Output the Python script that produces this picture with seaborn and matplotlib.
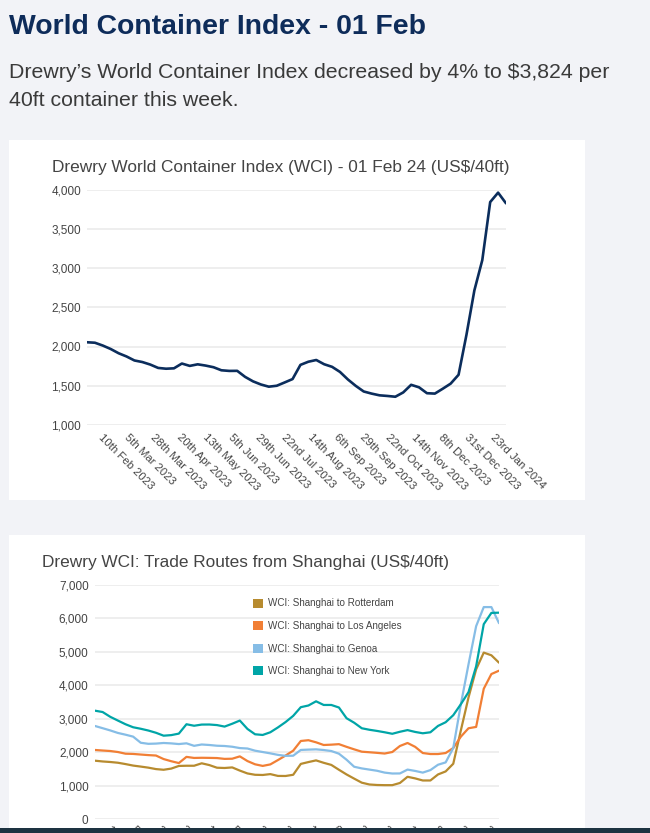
import matplotlib
matplotlib.use("Agg")
import matplotlib.pyplot as plt
from matplotlib.patches import Rectangle, Patch
from matplotlib.ticker import StrMethodFormatter
import pandas as pd
import seaborn as sns

# ---------------------------------------------------------------------------
# Data (weekly WCI assessments, 26 Jan 2023 - 01 Feb 2024, US$/40ft)
# ---------------------------------------------------------------------------
weeks = pd.date_range("2023-01-26", periods=54, freq="7D")

wci_composite = [
    2054, 2048, 2012, 1968, 1914, 1873, 1822, 1802, 1770, 1727,
    1717, 1722, 1783, 1753, 1773, 1757, 1736, 1697, 1689, 1690,
    1613, 1556, 1516, 1488, 1500, 1542, 1585, 1766, 1806, 1828,
    1774, 1741, 1676, 1580, 1498, 1427, 1400, 1378, 1370, 1360,
    1415, 1512, 1480, 1405, 1400, 1462, 1527, 1640, 2150, 2715,
    3100, 3840, 3960, 3824,
]

shanghai_rotterdam = [
    1751, 1728, 1712, 1690, 1650, 1605, 1575, 1543, 1500, 1480,
    1515, 1594, 1600, 1600, 1673, 1620, 1541, 1533, 1550, 1455,
    1370, 1330, 1324, 1350, 1296, 1294, 1330, 1655, 1710, 1760,
    1688, 1625, 1480, 1340, 1215, 1094, 1040, 1025, 1020, 1020,
    1085, 1270, 1222, 1160, 1160, 1340, 1430, 1660, 2660, 3640,
    4480, 4980, 4900, 4679,
]
shanghai_los_angeles = [
    2071, 2055, 2040, 2010, 1960, 1953, 1935, 1918, 1905, 1800,
    1735, 1680, 1865, 1833, 1838, 1835, 1830, 1805, 1810, 1880,
    1740, 1643, 1595, 1640, 1770, 1905, 2050, 2340, 2363, 2300,
    2220, 2230, 2245, 2165, 2090, 2020, 2003, 1985, 1965, 2010,
    2190, 2280, 2165, 1980, 1950, 1950, 1980, 2130, 2470, 2720,
    2760, 3900, 4340, 4440,
]
shanghai_genoa = [
    2788, 2722, 2655, 2580, 2528, 2470, 2287, 2255, 2262, 2280,
    2268, 2248, 2270, 2195, 2235, 2220, 2198, 2190, 2168, 2128,
    2115, 2050, 2010, 1970, 1925, 1895, 1900, 2072, 2082, 2090,
    2070, 2040, 1960, 1780, 1570, 1520, 1485, 1450, 1395, 1368,
    1370, 1485, 1445, 1395, 1470, 1630, 1700, 2130, 3440, 4630,
    5770, 6340, 6340, 5860,
]
shanghai_new_york = [
    3245, 3205, 3062, 2950, 2840, 2750, 2705, 2652, 2585, 2498,
    2515, 2560, 2840, 2795, 2830, 2832, 2815, 2770, 2855, 2950,
    2700, 2540, 2520, 2600, 2745, 2905, 3090, 3350, 3400, 3525,
    3416, 3416, 3340, 3020, 2885, 2720, 2675, 2640, 2600, 2555,
    2615, 2665, 2610, 2570, 2600, 2790, 2900, 3110, 3440, 3800,
    4570, 5830, 6166, 6173,
]

route_names = [
    "WCI: Shanghai to Rotterdam",
    "WCI: Shanghai to Los Angeles",
    "WCI: Shanghai to Genoa",
    "WCI: Shanghai to New York",
]
route_colors = ["#b78b2f", "#f17f35", "#86bde6", "#00a5a7"]

tick_dates = [
    "2023-02-10", "2023-03-05", "2023-03-28", "2023-04-20", "2023-05-13",
    "2023-06-05", "2023-06-29", "2023-07-22", "2023-08-14", "2023-09-06",
    "2023-09-29", "2023-10-22", "2023-11-14", "2023-12-08", "2023-12-31",
    "2024-01-23",
]
tick_labels = [
    "10th Feb 2023", "5th Mar 2023", "28th Mar 2023", "20th Apr 2023",
    "13th May 2023", "5th Jun 2023", "29th Jun 2023", "22nd Jul 2023",
    "14th Aug 2023", "6th Sep 2023", "29th Sep 2023", "22nd Oct 2023",
    "14th Nov 2023", "8th Dec 2023", "31st Dec 2023", "23rd Jan 2024",
]

# ---------------------------------------------------------------------------
# Page layout
# ---------------------------------------------------------------------------
W, H = 650, 833
PAGE_BG = "#f2f3f7"
NAVY = "#0e2c5a"
TEXT = "#444444"
GRID = "#e9e9e9"

sns.set_style("white")
plt.rcParams["font.family"] = ["Liberation Sans", "DejaVu Sans"]

fig = plt.figure(figsize=(W / 100, H / 100), dpi=100)
fig.patch.set_facecolor(PAGE_BG)


def fx(px):
    return px / W


def fy(py):
    return 1 - py / H


def axes_box(left, top, right, bottom):
    return [fx(left), fy(bottom), (right - left) / W, (bottom - top) / H]


# white cards
for top, bottom in [(140, 500), (535, 833)]:
    fig.add_artist(Rectangle((fx(9), fy(bottom)), 576 / W, (bottom - top) / H,
                             transform=fig.transFigure, facecolor="white",
                             edgecolor="none", zorder=-5))

# page heading
fig.text(fx(9), fy(34), "World Container Index - 01 Feb", fontsize=20.4,
         fontweight="bold", color=NAVY, va="baseline", ha="left")
fig.text(fx(9), fy(78), "Drewry\u2019s World Container Index decreased by 4% to $3,824 per",
         fontsize=15.35, color="#3a3a3a", va="baseline", ha="left")
fig.text(fx(9), fy(106), "40ft container this week.",
         fontsize=15.35, color="#3a3a3a", va="baseline", ha="left")


def style_axis(ax, ymin, ymax, step, ypad, xpad):
    ax.set_facecolor("white")
    ax.set_ylim(ymin, ymax)
    ax.set_yticks(range(ymin, ymax + 1, step))
    ax.yaxis.set_major_formatter(StrMethodFormatter("{x:,.0f}"))
    ax.set_xlim(weeks[0], weeks[-1])
    ax.set_xticks(pd.to_datetime(tick_dates))
    ax.set_xticklabels(tick_labels, rotation=-45, ha="left", va="top",
                       rotation_mode="anchor")
    ax.tick_params(axis="both", length=0, colors=TEXT)
    ax.tick_params(axis="x", labelsize=8.2, pad=xpad)
    ax.tick_params(axis="y", labelsize=8.5, pad=ypad)
    ax.grid(axis="y", color=GRID, linewidth=1.1)
    ax.grid(axis="x", visible=False)
    ax.set_axisbelow(True)
    for s in ax.spines.values():
        s.set_visible(False)
    ax.set_xlabel("")
    ax.set_ylabel("")


# ---------------------------------------------------------------------------
# Chart 1: composite WCI
# ---------------------------------------------------------------------------
ax1 = fig.add_axes(axes_box(87, 189.5, 506, 425))
df1 = pd.DataFrame({"week": weeks, "wci": wci_composite})
sns.lineplot(data=df1, x="week", y="wci", ax=ax1, color="#0b2d5c",
             linewidth=1.9)
style_axis(ax1, 1000, 4000, 500, 4.3, 5)
fig.text(fx(52), fy(172), "Drewry World Container Index (WCI) - 01 Feb 24 (US$/40ft)",
         fontsize=12.4, color=TEXT, va="baseline", ha="left")

# ---------------------------------------------------------------------------
# Chart 2: trade routes from Shanghai
# ---------------------------------------------------------------------------
ax2 = fig.add_axes(axes_box(95, 585, 499, 819.3))
df2 = pd.DataFrame({
    "week": list(weeks) * 4,
    "route": [n for n in route_names for _ in weeks],
    "rate": shanghai_rotterdam + shanghai_los_angeles + shanghai_genoa + shanghai_new_york,
})
sns.lineplot(data=df2, x="week", y="rate", hue="route", hue_order=route_names,
             palette=dict(zip(route_names, route_colors)), ax=ax2,
             linewidth=1.6, legend=False)
style_axis(ax2, 0, 7000, 1000, 4.6, 3.5)
fig.text(fx(42), fy(566.5), "Drewry WCI: Trade Routes from Shanghai (US$/40ft)",
         fontsize=12.4, color=TEXT, va="baseline", ha="left")

handles = [Patch(facecolor=c, edgecolor="none") for c in route_colors]
ax2.legend(handles, route_names, loc="upper left",
           bbox_to_anchor=(fx(253), fy(598.5)), bbox_transform=fig.transFigure,
           frameon=False, fontsize=7.1, handlelength=1.0, handleheight=1.0,
           handletextpad=0.5, labelspacing=1.27, borderpad=0, borderaxespad=0,
           labelcolor=TEXT)

# dark footer strip over the cut-off axis labels
fig.add_artist(Rectangle((0, 0), 1, 5.3 / H, transform=fig.transFigure,
                         facecolor="#1d3341", edgecolor="none", zorder=10))

fig.savefig("out.png", dpi=100, facecolor=fig.get_facecolor())
